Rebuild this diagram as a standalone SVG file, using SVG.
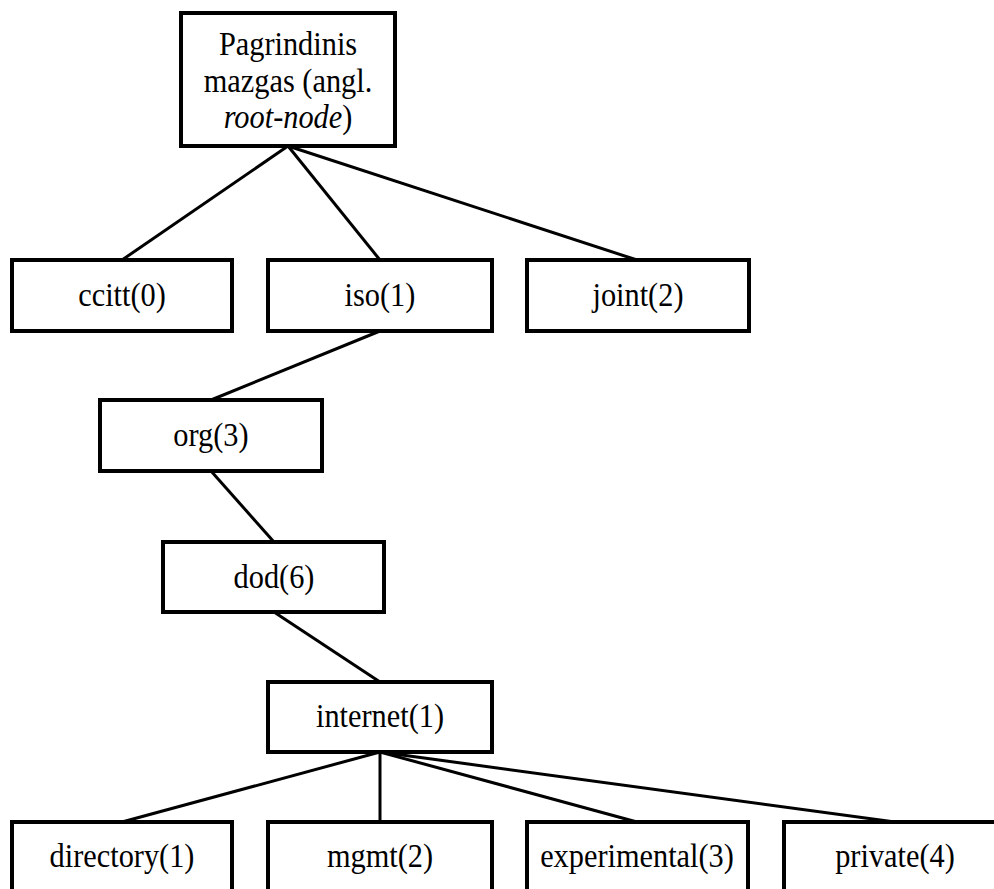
<svg xmlns="http://www.w3.org/2000/svg" width="994" height="889" viewBox="0 0 994 889">
  <style>
    .box { fill: #ffffff; stroke: #000000; stroke-width: 4; }
    .edge { stroke: #000000; stroke-width: 3; fill: none; }
    .label { font-family: "Liberation Serif", "Times New Roman", serif; font-size: 33px; fill: #000000; text-anchor: middle; }
  </style>
  <rect width="994" height="889" fill="#ffffff"/>

  <!-- tree connectors: parent bottom-centre to child top-centre -->
  <g id="connectors">
    <line class="edge" x1="288" y1="146" x2="122" y2="260"/>
    <line class="edge" x1="288" y1="146" x2="380" y2="260"/>
    <line class="edge" x1="288" y1="146" x2="637" y2="260"/>
    <line class="edge" x1="380" y1="331" x2="211" y2="400"/>
    <line class="edge" x1="211" y1="471" x2="274" y2="542"/>
    <line class="edge" x1="274" y1="612" x2="380" y2="682"/>
    <line class="edge" x1="380" y1="752" x2="122" y2="822"/>
    <line class="edge" x1="380" y1="752" x2="380" y2="822"/>
    <line class="edge" x1="380" y1="752" x2="637" y2="822"/>
    <line class="edge" x1="380" y1="752" x2="895" y2="822"/>
  </g>

  <!-- labels are drawn slightly condensed: translate to anchor, then narrow horizontally -->
  <g id="root">
    <rect class="box" x="181" y="13" width="214" height="133"/>
    <text class="label" transform="translate(288 55) scale(0.92 1)">Pagrindinis</text>
    <text class="label" transform="translate(288 92) scale(0.92 1)">mazgas (angl.</text>
    <text class="label" transform="translate(288 128) scale(0.92 1)"><tspan font-style="italic">root-node</tspan>)</text>
  </g>

  <g id="ccitt">
    <rect class="box" x="12" y="260" width="220" height="71"/>
    <text class="label" transform="translate(122 306) scale(0.92 1)">ccitt(0)</text>
  </g>
  <g id="iso">
    <rect class="box" x="268" y="260" width="224" height="71"/>
    <text class="label" transform="translate(380 306) scale(0.92 1)">iso(1)</text>
  </g>
  <g id="joint">
    <rect class="box" x="527" y="260" width="222" height="71"/>
    <text class="label" transform="translate(638 306) scale(0.92 1)">joint(2)</text>
  </g>

  <g id="org">
    <rect class="box" x="100" y="400" width="222" height="71"/>
    <text class="label" transform="translate(211 446) scale(0.92 1)">org(3)</text>
  </g>
  <g id="dod">
    <rect class="box" x="163" y="542" width="221" height="70"/>
    <text class="label" transform="translate(274 588) scale(0.92 1)">dod(6)</text>
  </g>
  <g id="internet">
    <rect class="box" x="268" y="682" width="224" height="70"/>
    <text class="label" transform="translate(380 727) scale(0.92 1)">internet(1)</text>
  </g>

  <g id="directory">
    <rect class="box" x="12" y="822" width="220" height="90"/>
    <text class="label" transform="translate(122 867) scale(0.92 1)">directory(1)</text>
  </g>
  <g id="mgmt">
    <rect class="box" x="268" y="822" width="224" height="90"/>
    <text class="label" transform="translate(380 867) scale(0.92 1)">mgmt(2)</text>
  </g>
  <g id="experimental">
    <rect class="box" x="527" y="822" width="221" height="90"/>
    <text class="label" transform="translate(637 867) scale(0.92 1)">experimental(3)</text>
  </g>
  <g id="private">
    <rect class="box" x="784" y="822" width="222" height="90"/>
    <text class="label" transform="translate(895 867) scale(0.92 1)">private(4)</text>
  </g>
</svg>
